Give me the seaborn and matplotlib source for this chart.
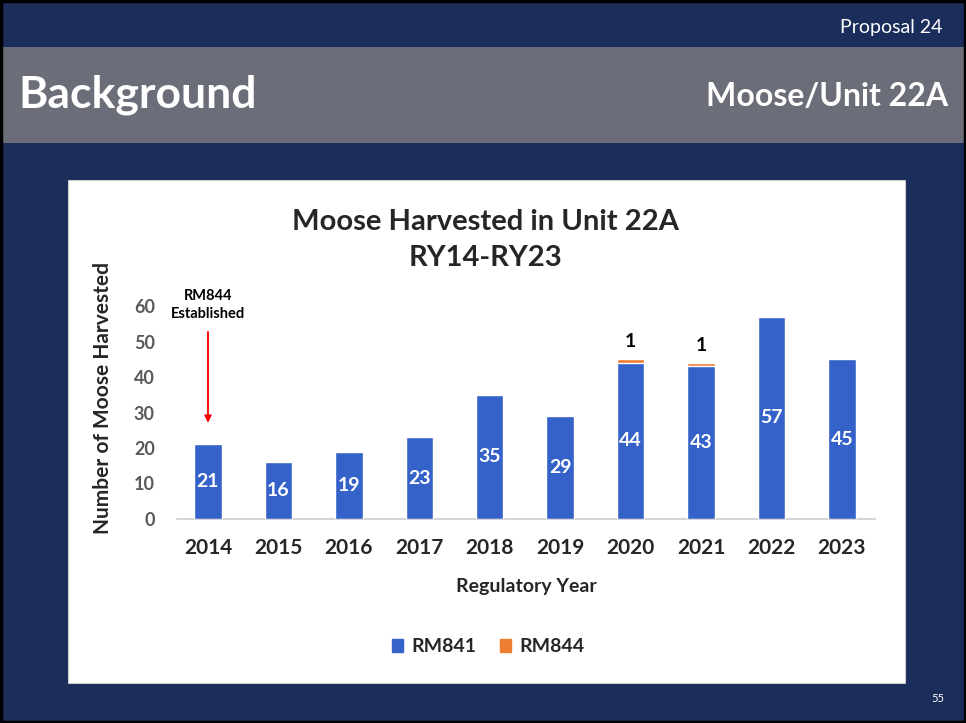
import matplotlib
matplotlib.use("Agg")
import matplotlib.pyplot as plt
import pandas as pd
import seaborn as sns
from matplotlib.patches import Rectangle

# data
years = ["2014", "2015", "2016", "2017", "2018", "2019", "2020", "2021", "2022", "2023"]
rm841 = [21, 16, 19, 23, 35, 29, 44, 43, 57, 45]
rm844 = [0, 0, 0, 0, 0, 0, 1, 1, 0, 0]

df = pd.DataFrame({"year": years, "RM841": rm841, "RM844": rm844})
df["total"] = df["RM841"] + df["RM844"]

sns.set_theme(style="white")
plt.rcParams["font.family"] = ["Lato", "DejaVu Sans"]

navy = "#1B2D5A"
blue = "#3562C8"
orange = "#ED7D31"

fig = plt.figure(figsize=(9.66, 7.23), dpi=100)
fig.patch.set_facecolor(navy)
W, H = 966, 723

def fig_rect(x0, y0, x1, y1, z=-5, **kw):
    r = Rectangle((x0 / W, 1 - y1 / H), (x1 - x0) / W, (y1 - y0) / H,
                  transform=fig.transFigure, figure=fig, zorder=z, **kw)
    fig.patches.append(r)

# slide decorations
fig_rect(0, 47, W, 143, facecolor="#6B6E78", edgecolor="none")
fig_rect(68, 180, 905, 683, facecolor="white", edgecolor="#CCCCCC", lw=0.8)
fig_rect(1, 1, W - 1, H - 1, z=10, facecolor="none", edgecolor="black", lw=2.5)

fig.text(942 / W, 1 - 27 / H, "Proposal 24", color="white", fontsize=14,
         ha="right", va="center")
fig.text(18 / W, 1 - 95 / H, "Background", color="white", fontsize=32,
         fontweight="bold", ha="left", va="center")
fig.text(948 / W, 1 - 97 / H, "Moose/Unit 22A", color="white", fontsize=23,
         fontweight="bold", ha="right", va="center")
fig.text(938 / W, 1 - 698 / H, "55", color="white", fontsize=8,
         ha="center", va="center")

# chart area
ax = fig.add_axes([177 / W, 1 - 519 / H, 698 / W, 213 / H])
ax.set_zorder(2)
ax.set_facecolor("none")

# stacked bars: total in orange, RM841 drawn over it
sns.barplot(data=df, x="year", y="total", order=years, color=orange,
            width=0.39, saturation=1, ax=ax, zorder=2)
sns.barplot(data=df, x="year", y="RM841", order=years, color=blue,
            width=0.39, saturation=1, ax=ax, zorder=3)

base_bars = ax.containers[1]
ax.bar_label(base_bars, labels=[str(v) for v in rm841], label_type="center",
             color="white", fontsize=14, fontweight="bold")
# RM844 counts above the stacked bars
for i, (tot, v) in enumerate(zip(df["total"], rm844)):
    if v > 0:
        ax.text(i, tot + 5, str(v), ha="center", va="center", color="black",
                fontsize=14, fontweight="bold")

ax.set_ylim(0, 60)
ax.set_xlim(-0.44, 9.47)
ax.set_yticks(range(0, 61, 10))
ax.tick_params(axis="y", length=0, pad=16, labelsize=13, labelcolor="#595959")
ax.tick_params(axis="x", length=0, pad=14, labelsize=15, labelcolor="#262626")
for lbl in ax.get_yticklabels() + ax.get_xticklabels():
    lbl.set_fontweight("bold")
for s in ["left", "right", "top"]:
    ax.spines[s].set_visible(False)
ax.spines["bottom"].set_color("#D0D0D0")
ax.grid(False)

ax.set_xlabel("Regulatory Year", fontsize=14, fontweight="bold", color="#262626",
              labelpad=14)
ax.set_ylabel("Number of Moose Harvested", fontsize=15, fontweight="bold",
              color="#262626")
ax.yaxis.set_label_coords(-0.092, 0.568)

# RM844 established marker
ax.annotate("", xy=(0, 26.3), xytext=(0, 53.5),
            arrowprops=dict(arrowstyle="-|>", color="red", lw=1.3,
                            mutation_scale=10), annotation_clip=False)
ax.text(0, 60.2, "RM844\nEstablished", ha="center", va="center",
        fontsize=10.5, fontweight="bold", color="black", linespacing=1.4,
        clip_on=False)

fig.text(485 / W, 1 - 222 / H, "Moose Harvested in Unit 22A", fontsize=21,
         fontweight="bold", color="#262626", ha="center", va="center")
fig.text(485 / W, 1 - 258 / H, "RY14-RY23", fontsize=21,
         fontweight="bold", color="#262626", ha="center", va="center")

handles = [Rectangle((0, 0), 1, 1, color=blue), Rectangle((0, 0), 1, 1, color=orange)]
leg = fig.legend(handles, ["RM841", "RM844"], loc="center",
                 bbox_to_anchor=(488 / W, 1 - 647 / H), ncol=2, frameon=False,
                 handlelength=0.6, handleheight=0.6, handletextpad=0.4,
                 columnspacing=1.2, fontsize=14)
for t in leg.get_texts():
    t.set_fontweight("bold")
    t.set_color("#262626")

fig.savefig("out.png", dpi=100, facecolor=fig.get_facecolor())
